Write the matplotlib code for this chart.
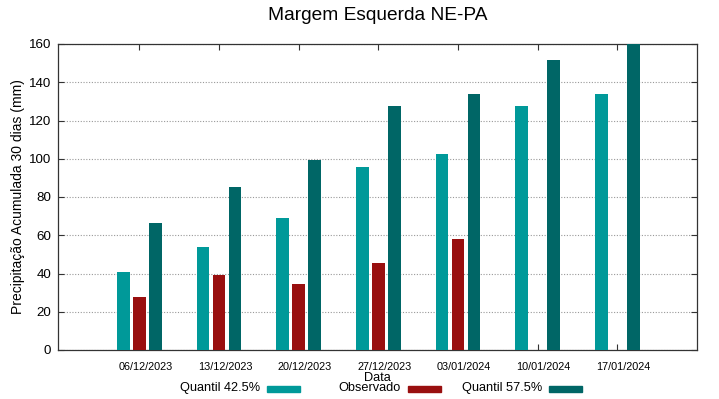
import numpy as np
import matplotlib
matplotlib.use('Agg')
import matplotlib.pyplot as plt
from matplotlib.patches import Rectangle
from matplotlib.transforms import ScaledTranslation

plt.rcParams['font.family'] = ['Liberation Sans', 'DejaVu Sans']

datas = ['06/12/2023', '13/12/2023', '20/12/2023', '27/12/2023',
         '03/01/2024', '10/01/2024', '17/01/2024']
q425 = [40.6, 53.7, 69.0, 95.5, 102.5, 127.6, 133.9]
observado = [27.7, 39.0, 34.5, 45.3, 58.2, np.nan, np.nan]
q575 = [66.6, 85.0, 99.5, 127.6, 133.9, 151.6, 163.0]
series_labels = ['Quantil 42.5%', 'Observado', 'Quantil 57.5%']

c_q425 = '#009999'
c_obs = '#990f0f'
c_q575 = '#006666'
colors = [c_q425, c_obs, c_q575]

W, H = 719, 399
fig = plt.figure(figsize=(W / 100, H / 100), dpi=100)
ax = fig.add_axes([58 / W, 1 - 350 / H, (697 - 58) / W, (350 - 44) / H])

x = np.arange(len(datas))
w = 0.16
ax.bar(x - 0.2, q425, w, color=c_q425, zorder=3)
ax.bar(x, observado, w, color=c_obs, zorder=3)
ax.bar(x + 0.2, q575, w, color=c_q575, zorder=3)

ax.set_xlim(-1.02, 7.0)
ax.set_ylim(0, 160)
ax.set_yticks(range(0, 161, 20))
ax.set_xticks(x)
ax.set_xticklabels(datas, fontsize=7.8)
ax.tick_params(axis='y', labelsize=9.6, pad=5)
ax.tick_params(direction='in', top=True, right=True, length=4, width=0.8, color='#333333')
ax.tick_params(axis='x', pad=9)
# gnuplot draws the date labels a little right of their ticks
shift = ScaledTranslation(6 / 100, 0, fig.dpi_scale_trans)
for lbl in ax.get_xticklabels():
    lbl.set_transform(lbl.get_transform() + shift)
ax.yaxis.grid(True, linestyle=(0, (1, 1.5)), color='#999999', linewidth=0.8, zorder=0)
for s in ax.spines.values():
    s.set_color('#333333')
    s.set_linewidth(0.9)

ax.set_ylabel('Precipitação Acumulada 30 dias (mm)', fontsize=10, labelpad=3)
fig.text(377.5 / W, 1 - 378 / H, 'Data', ha='center', va='center', fontsize=9.2)
fig.text(377.5 / W, 1 - 16 / H, 'Margem Esquerda NE-PA', ha='center', va='center', fontsize=13.8)

# legend in fixed-width columns, text right-aligned before the sample (gnuplot style)
for i, (lab, col) in enumerate(zip(series_labels, colors)):
    x0 = 267 + 141 * i
    fig.patches.append(Rectangle((x0 / W, 1 - 392 / H), 33 / W, 6 / H,
                                 transform=fig.transFigure, color=col))
    fig.text((x0 - 7) / W, 1 - 388 / H, lab, ha='right', va='center', fontsize=9.2)

fig.savefig('out.png', dpi=100)
